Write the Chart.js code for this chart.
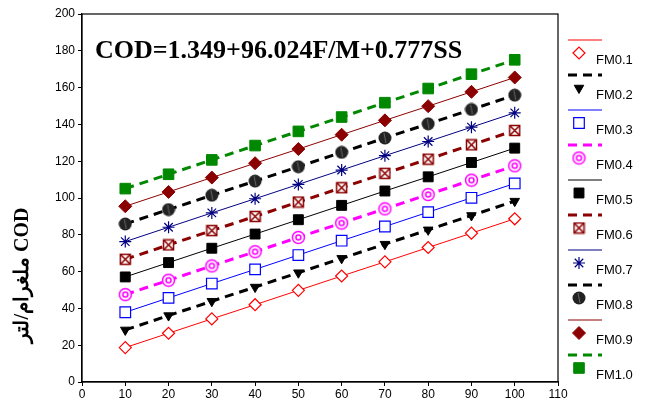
<!DOCTYPE html>
<html>
<head>
<meta charset="utf-8">
<script src="https://cdn.jsdelivr.net/npm/chart.js@4.4.0/dist/chart.umd.min.js"></script>
<style>
  html, body { margin: 0; padding: 0; background: #fff; }
  #wrap { position: relative; width: 646px; height: 405px; }
</style>
</head>
<body>
<div id="wrap"><canvas id="chart" width="646" height="405"></canvas></div>
<script>
// Sludge solids SS (mg/l) on the x axis
const ssValues = [10, 20, 30, 40, 50, 60, 70, 80, 90, 100];

const fm01 = [18.7, 26.5, 34.3, 42.0, 49.8, 57.6, 65.3, 73.1, 80.9, 88.7];
const fm02 = [28.3, 36.1, 43.9, 51.6, 59.4, 67.2, 74.9, 82.7, 90.5, 98.3];
const fm03 = [37.9, 45.7, 53.5, 61.2, 69.0, 76.8, 84.5, 92.3, 100.1, 107.9];
const fm04 = [47.5, 55.3, 63.1, 70.8, 78.6, 86.4, 94.1, 101.9, 109.7, 117.5];
const fm05 = [57.1, 64.9, 72.7, 80.4, 88.2, 96.0, 103.8, 111.5, 119.3, 127.1];
const fm06 = [66.7, 74.5, 82.3, 90.0, 97.8, 105.6, 113.4, 121.1, 128.9, 136.7];
const fm07 = [76.3, 84.1, 91.9, 99.6, 107.4, 115.2, 123.0, 130.7, 138.5, 146.3];
const fm08 = [85.9, 93.7, 101.5, 109.2, 117.0, 124.8, 132.6, 140.3, 148.1, 155.9];
const fm09 = [95.5, 103.3, 111.1, 118.9, 126.6, 134.4, 142.2, 149.9, 157.7, 165.5];
const fm10 = [105.1, 112.9, 120.7, 128.5, 136.2, 144.0, 151.8, 159.5, 167.3, 175.1];

const seriesLabels = ['FM0.1', 'FM0.2', 'FM0.3', 'FM0.4', 'FM0.5', 'FM0.6', 'FM0.7', 'FM0.8', 'FM0.9', 'FM1.0'];
const xTicks = [0, 10, 20, 30, 40, 50, 60, 70, 80, 90, 100, 110];
const yTicks = [0, 20, 40, 60, 80, 100, 120, 140, 160, 180, 200];

const formulaText = 'COD=1.349+96.024F/M+0.777SS';
const yTitleText = 'ملغرام/لتر COD';

// small custom marker images
function marker(size, draw) {
  const c = document.createElement('canvas');
  c.width = size; c.height = size;
  draw(c.getContext('2d'), size / 2);
  return c;
}

const circleDot = marker(15, (g, m) => {
  g.strokeStyle = '#ff00ff';
  g.lineWidth = 1.5;
  g.fillStyle = '#fff';
  g.beginPath(); g.arc(m, m, 6, 0, Math.PI * 2); g.fill(); g.stroke();
  g.beginPath(); g.arc(m, m, 2.5, 0, Math.PI * 2); g.stroke();
});

const crossBox = marker(13, (g, m) => {
  g.strokeStyle = '#8b0000';
  g.lineWidth = 1.5;
  g.fillStyle = '#fff';
  g.fillRect(1.5, 1.5, 10, 10);
  g.strokeRect(1.5, 1.5, 10, 10);
  g.beginPath();
  g.moveTo(2, 2); g.lineTo(11, 11);
  g.moveTo(11, 2); g.lineTo(2, 11);
  g.stroke();
});

const darkBall = marker(14, (g, m) => {
  g.fillStyle = '#222';
  g.beginPath(); g.arc(m, m, 6.5, 0, Math.PI * 2); g.fill();
  g.strokeStyle = '#666';
  g.lineWidth = 1;
  g.beginPath(); g.moveTo(m - 1, m - 5); g.lineTo(m + 1, m + 5); g.stroke();
});

const DASH = [9, 6];

const styles = [
  { color: '#ff0000', width: 1, dash: [], point: 'rectRot', radius: 6, fill: '#fff', pb: 1.2 },
  { color: '#000000', width: 3, dash: DASH, point: 'triangle', rotation: 180, radius: 5.5, fill: '#000', pb: 1 },
  { color: '#0000ff', width: 1, dash: [], point: 'rect', radius: 7.5, fill: '#fff', pb: 1.2 },
  { color: '#ff00ff', width: 3, dash: DASH, point: circleDot, radius: 7, fill: '#fff', pb: 1 },
  { color: '#000000', width: 1, dash: [], point: 'rect', radius: 7, fill: '#000', pb: 1 },
  { color: '#8b0000', width: 3, dash: DASH, point: crossBox, radius: 7, fill: '#fff', pb: 1 },
  { color: '#000080', width: 1, dash: [], point: 'star', radius: 6, fill: '#000080', pb: 1.2 },
  { color: '#000000', width: 3, dash: DASH, point: darkBall, radius: 7, fill: '#222', pb: 1 },
  { color: '#8b0000', width: 1, dash: [], point: 'rectRot', radius: 6.5, fill: '#8b0000', pb: 1 },
  { color: '#008800', width: 3, dash: DASH, point: 'rect', radius: 7.5, fill: '#008800', pb: 1 }
];

const allSeries = [fm01, fm02, fm03, fm04, fm05, fm06, fm07, fm08, fm09, fm10];

const datasets = allSeries.map((vals, i) => {
  const s = styles[i];
  return {
    label: seriesLabels[i],
    data: vals.map((v, j) => ({ x: ssValues[j], y: v })),
    borderColor: s.color,
    borderWidth: s.width,
    borderDash: s.dash,
    pointStyle: s.point,
    pointRotation: s.rotation || 0,
    pointRadius: s.radius,
    pointBackgroundColor: s.fill,
    pointBorderColor: s.color,
    pointBorderWidth: s.pb,
    tension: 0,
    fill: false
  };
});

const decorPlugin = {
  id: 'decor',
  afterDraw(chart) {
    const ctx = chart.ctx;
    const a = chart.chartArea;
    ctx.save();

    // frame round the plot
    ctx.strokeStyle = '#000';
    ctx.lineWidth = 1.2;
    ctx.strokeRect(a.left, a.top, a.right - a.left, a.bottom - a.top);

    // equation
    ctx.fillStyle = '#000';
    ctx.font = 'bold 26px "Liberation Serif", "Times New Roman", serif';
    ctx.textBaseline = 'middle';
    ctx.textAlign = 'left';
    ctx.fillText(formulaText, 95, 51);

    // y title
    ctx.save();
    ctx.translate(23, 275);
    ctx.rotate(-Math.PI / 2);
    ctx.font = 'bold 20px "Liberation Serif", "Times New Roman", serif';
    ctx.textAlign = 'center';
    ctx.fillText(yTitleText, 0, 0);
    ctx.restore();

    // legend at the right
    chart.data.datasets.forEach((ds, i) => {
      const y0 = 40 + i * 35;
      ctx.save();
      ctx.strokeStyle = ds.borderColor;
      ctx.lineWidth = ds.borderWidth;
      ctx.setLineDash(ds.borderDash);
      ctx.beginPath();
      ctx.moveTo(568, y0);
      ctx.lineTo(602, y0);
      ctx.stroke();
      ctx.restore();

      ctx.save();
      ctx.fillStyle = ds.pointBackgroundColor;
      ctx.strokeStyle = ds.pointBorderColor;
      ctx.lineWidth = ds.pointBorderWidth;
      Chart.helpers.drawPoint(ctx, {
        pointStyle: ds.pointStyle,
        rotation: ds.pointRotation,
        radius: ds.pointRadius,
        borderWidth: ds.pointBorderWidth
      }, 579, y0 + 13);
      ctx.restore();

      ctx.fillStyle = '#000';
      ctx.font = '13px "Liberation Sans", Arial, sans-serif';
      ctx.textAlign = 'left';
      ctx.textBaseline = 'middle';
      ctx.fillText(ds.label, 596, y0 + 20);
    });

    ctx.restore();
  }
};

new Chart(document.getElementById('chart'), {
  type: 'line',
  data: { datasets },
  plugins: [decorPlugin],
  options: {
    responsive: false,
    animation: false,
    devicePixelRatio: 1,
    layout: { padding: { top: 14, right: 88, bottom: 0, left: 0 } },
    plugins: {
      legend: { display: false },
      tooltip: { enabled: false }
    },
    scales: {
      x: {
        type: 'linear',
        min: 0,
        max: 110,
        afterFit(scale) { scale.height = 23; },
        afterBuildTicks(scale) { scale.ticks = xTicks.map(v => ({ value: v })); },
        grid: { display: true, drawOnChartArea: false, drawTicks: true, tickLength: 4, color: '#000' },
        border: { display: true, color: '#000', width: 1.2 },
        ticks: {
          color: '#000',
          padding: 1,
          maxRotation: 0,
          font: { family: '"Liberation Sans", Arial, sans-serif', size: 12 }
        }
      },
      y: {
        type: 'linear',
        min: 0,
        max: 200,
        afterFit(scale) { scale.width = 82; },
        afterBuildTicks(scale) { scale.ticks = yTicks.map(v => ({ value: v })); },
        grid: { display: true, drawOnChartArea: false, drawTicks: true, tickLength: 4, color: '#000' },
        border: { display: true, color: '#000', width: 1.2 },
        ticks: {
          color: '#000',
          padding: 3,
          font: { family: '"Liberation Sans", Arial, sans-serif', size: 12 }
        }
      }
    }
  }
});
</script>
</body>
</html>
